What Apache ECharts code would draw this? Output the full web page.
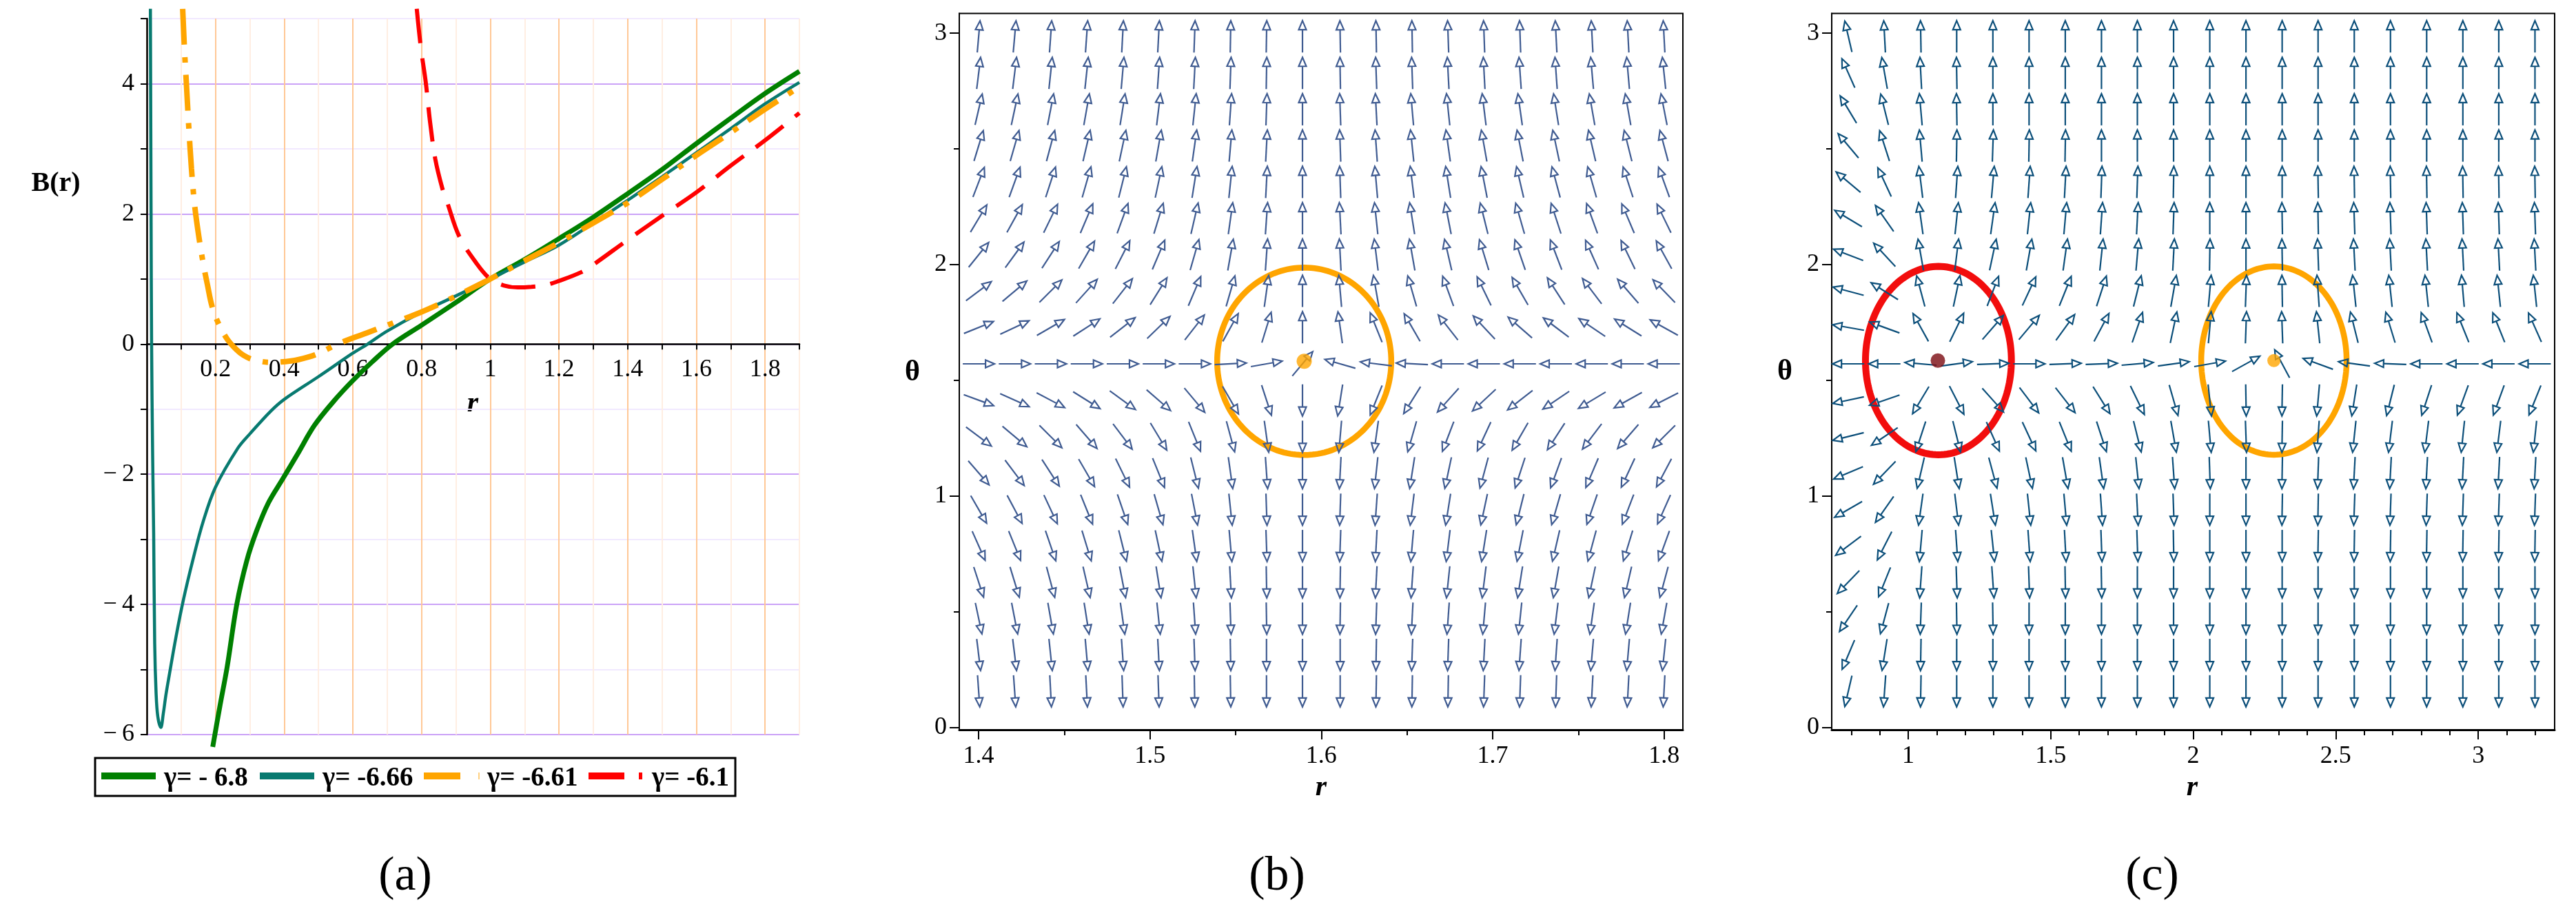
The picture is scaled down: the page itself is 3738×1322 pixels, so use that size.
<!DOCTYPE html>
<html><head><meta charset="utf-8">
<script src="https://cdn.jsdelivr.net/npm/echarts@6/dist/echarts.min.js"></script>
<style>html,body{margin:0;padding:0;background:#fff}#c{width:3738px;height:1322px}</style>
</head><body><div id="c"></div>
<script>
// ---------------- Panel (a): B(r) curves ----------------
const legendLabels = ['γ= - 6.8', 'γ= -6.66', 'γ= -6.61', 'γ= -6.1'];
const curveG680 = [[0.192,-6.19],[0.213,-5.56],[0.234,-4.96],[0.262,-4.0],[0.291,-3.33],[0.319,-2.88],[0.354,-2.44],[0.396,-2.07],[0.439,-1.69],[0.488,-1.25],[0.544,-0.88],[0.6,-0.56],[0.657,-0.27],[0.716,0],[0.8,0.29],[0.9,0.64],[1.0,1.0],[1.1,1.3],[1.2,1.62],[1.3,1.95],[1.4,2.31],[1.5,2.68],[1.6,3.08],[1.7,3.47],[1.8,3.85],[1.9,4.19]];
const curveG666 = [[0.0105,5.15],[0.0125,2.0],[0.014,0],[0.017,-1.7],[0.02,-2.9],[0.023,-4.6],[0.027,-5.35],[0.032,-5.72],[0.041,-5.89],[0.048,-5.68],[0.056,-5.38],[0.065,-5.1],[0.085,-4.5],[0.107,-3.92],[0.135,-3.3],[0.164,-2.73],[0.2,-2.2],[0.265,-1.6],[0.3,-1.38],[0.361,-1.03],[0.4,-0.85],[0.5,-0.5],[0.6,-0.14],[0.643,0],[0.7,0.2],[0.8,0.49],[0.9,0.74],[1.0,1.0],[1.1,1.26],[1.2,1.52],[1.3,1.86],[1.4,2.21],[1.5,2.57],[1.6,2.94],[1.7,3.31],[1.8,3.69],[1.9,4.02]];
const curveG661 = [[0.1045,5.15],[0.11,4.5],[0.115,4.03],[0.122,3.36],[0.13,2.7],[0.14,2.1],[0.153,1.6],[0.165,1.22],[0.177,0.9],[0.19,0.58],[0.21,0.3],[0.235,0.07],[0.26,-0.08],[0.281,-0.17],[0.31,-0.24],[0.36,-0.28],[0.42,-0.26],[0.47,-0.2],[0.506,-0.13],[0.555,0],[0.64,0.17],[0.72,0.33],[0.78,0.45],[0.87,0.66],[1.0,1.0],[1.1,1.28],[1.2,1.56],[1.3,1.86],[1.4,2.17],[1.5,2.53],[1.6,2.9],[1.7,3.25],[1.8,3.61],[1.9,3.95]];
const curveG610 = [[0.786,5.15],[0.798,4.55],[0.812,4.03],[0.825,3.4],[0.84,2.84],[0.86,2.4],[0.875,2.17],[0.91,1.65],[0.96,1.24],[1.0,1.0],[1.04,0.9],[1.08,0.87],[1.12,0.88],[1.164,0.91],[1.2,0.97],[1.263,1.1],[1.3,1.22],[1.4,1.6],[1.5,1.97],[1.6,2.33],[1.7,2.74],[1.8,3.13],[1.9,3.55]];

// ---------------- Panels (b),(c): direction fields ----------------
const thetaRows = [2.985,2.827,2.670,2.513,2.356,2.199,2.042,1.885,1.728,1.571,1.414,1.257,1.100,0.942,0.785,0.628,0.471,0.314,0.157];
const bCols = [1.400,1.421,1.442,1.463,1.484,1.505,1.526,1.547,1.568,1.589,1.611,1.632,1.653,1.674,1.695,1.716,1.737,1.758,1.779,1.800];
const cCols = [0.790,0.917,1.044,1.170,1.297,1.424,1.551,1.678,1.804,1.931,2.058,2.185,2.312,2.438,2.565,2.692,2.819,2.946,3.072,3.199];
// arrow directions in degrees (0 = +r, 90 = +theta), rows top to bottom
const bAngles = [
[85,85,86,86,87,87,88,89,89,90,91,91,91,92,92,92,93,93,93,93],
[83,83,84,84,85,86,87,88,89,90,91,92,92,93,93,94,94,95,95,96],
[77,78,79,80,81,83,84,86,88,90,92,93,95,96,97,98,99,100,100,101],
[73,74,75,77,78,80,82,85,87,90,92,94,96,98,100,101,102,103,104,105],
[69,70,72,74,76,78,81,84,87,90,92,95,97,99,101,103,105,106,108,110],
[59,61,64,67,70,73,77,82,86,90,93,96,99,101,104,106,108,110,113,116],
[51,54,57,60,63,67,74,80,86,90,93,97,100,103,107,109,111,114,116,119],
[37,40,45,48,52,58,67,74,82,90,95,100,106,110,116,120,123,127,131,134],
[22,25,30,33,38,44,52,61,73,90,98,112,120,128,133,139,143,146,148,151],
[0,0,0,0,0,0,0,3,10,50,164,173,177,180,180,180,180,180,180,180],
[-20,-24,-28,-32,-36,-41,-50,-60,-72,-90,-99,-112,-122,-132,-137,-142,-146,-149,-151,-153],
[-37,-40,-45,-49,-53,-59,-68,-75,-82,-90,-95,-98,-106,-111,-115,-120,-123,-127,-131,-135],
[-49,-53,-57,-60,-64,-68,-76,-82,-86,-90,-93,-96,-99,-102,-105,-108,-110,-113,-115,-118],
[-60,-62,-65,-68,-71,-74,-79,-84,-88,-90,-92,-94,-97,-99,-102,-104,-106,-109,-111,-114],
[-66,-68,-71,-73,-76,-78,-82,-85,-88,-90,-92,-93,-95,-97,-99,-101,-103,-105,-107,-110],
[-72,-73,-75,-77,-79,-81,-84,-87,-89,-90,-91,-93,-94,-96,-97,-99,-100,-102,-103,-105],
[-78,-79,-80,-81,-82,-84,-86,-88,-89,-90,-91,-92,-93,-94,-95,-96,-97,-98,-99,-100],
[-83,-83,-84,-85,-86,-87,-88,-89,-90,-90,-90,-91,-92,-92,-93,-94,-94,-95,-95,-96],
[-86,-86,-87,-87,-88,-88,-89,-89,-90,-90,-90,-91,-91,-91,-92,-92,-92,-93,-93,-93]
];
const cAngles = [
[103,93,91,90,90,90,90,90,90,90,90,90,90,90,90,90,90,90,90,90],
[114,100,93,91,90,90,90,90,90,90,90,90,90,90,90,90,90,90,90,90],
[121,104,95,91,90,90,90,90,90,90,90,90,90,90,90,90,90,90,90,90],
[130,108,95,89,88,89,89,90,90,90,90,90,90,90,90,90,90,90,90,90],
[140,115,97,86,85,86,87,88,88,89,90,90,90,91,91,91,91,91,91,91],
[149,125,98,84,82,84,85,86,87,88,90,90,91,91,92,92,92,92,92,92],
[159,133,100,83,78,80,82,84,85,87,89,90,91,92,93,93,93,93,93,93],
[165,148,105,78,69,65,68,72,76,80,85,88,91,94,96,96,96,95,96,96],
[170,160,119,64,49,50,54,62,71,78,85,88,92,96,104,107,110,112,112,114],
[180,180,175,8,2,0,2,2,5,8,10,29,118,160,172,178,180,180,180,180],
[-168,-161,-121,-63,-48,-53,-52,-58,-64,-74,-84,-89,-91,-95,-99,-104,-108,-110,-110,-112],
[-166,-146,-108,-76,-66,-65,-68,-72,-76,-80,-85,-88,-91,-94,-96,-97,-97,-96,-97,-96],
[-157,-134,-103,-81,-75,-78,-80,-82,-84,-86,-88,-90,-91,-92,-93,-93,-93,-93,-93,-93],
[-150,-125,-98,-83,-81,-84,-85,-86,-87,-88,-90,-90,-91,-91,-92,-92,-92,-92,-92,-92],
[-143,-117,-95,-86,-84,-86,-87,-88,-88,-89,-90,-90,-90,-91,-91,-91,-91,-91,-91,-91],
[-134,-112,-94,-88,-86,-88,-89,-89,-90,-90,-90,-90,-90,-90,-90,-90,-90,-90,-90,-90],
[-124,-105,-92,-89,-89,-90,-90,-90,-90,-90,-90,-90,-90,-90,-90,-90,-90,-90,-90,-90],
[-113,-99,-91,-90,-90,-90,-90,-90,-90,-90,-90,-90,-90,-90,-90,-90,-90,-90,-90,-90],
[-103,-94,-91,-90,-90,-90,-90,-90,-90,-90,-90,-90,-90,-90,-90,-90,-90,-90,-90,-90]
];
// critical points and their enclosing contours: [r, theta, r-radius, theta-radius]
const bPoint = [[1.590, 1.582]];
const bContour = [[1.590, 1.582, 0.0508, 0.405]];
const cRedPoint = [[1.104, 1.585]];
const cRedContour = [[1.106, 1.585, 0.256, 0.407]];
const cOrangePoint = [[2.283, 1.585]];
const cOrangeContour = [[2.283, 1.585, 0.255, 0.407]];

// tick values
const bXMajor = [1.4, 1.5, 1.6, 1.7, 1.8];
const bXMinor = [1.45, 1.55, 1.65, 1.75];
const cXMajor = [1, 1.5, 2, 2.5, 3];
const cXMinor = [0.8,0.9,1.1,1.2,1.3,1.4,1.6,1.7,1.8,1.9,2.1,2.2,2.3,2.4,2.6,2.7,2.8,2.9,3.1,3.2];
const thetaMajor = [0, 1, 2, 3];
const thetaMinor = [0.5, 1.5, 2.5];

// ---------------- rendering ----------------
const SERIF = 'Liberation Serif';
const chart = echarts.init(document.getElementById('c'), null, {width: 3738, height: 1322});

function fieldData(cols, rows, ang) {
  const out = [];
  for (let j = 0; j < rows.length; j++)
    for (let i = 0; i < cols.length; i++) out.push([cols[i], rows[j], ang[j][i]]);
  return out;
}
function arrowRender(color) {
  return function (params, api) {
    const p = api.coord([api.value(0), api.value(1)]);
    const a = api.value(2) * Math.PI / 180;
    const dx = Math.cos(a), dy = -Math.sin(a);
    const L = 46, H = 13, W = 5.5;
    const tail = [p[0] - dx * L / 2, p[1] - dy * L / 2];
    const tip = [p[0] + dx * L / 2, p[1] + dy * L / 2];
    const base = [tip[0] - dx * H, tip[1] - dy * H];
    const px = -dy, py = dx;
    return {type: 'group', children: [
      {type: 'line', shape: {x1: tail[0], y1: tail[1], x2: base[0], y2: base[1]}, style: {stroke: color, lineWidth: 2.2}},
      {type: 'polygon', shape: {points: [tip, [base[0] + px * W, base[1] + py * W], [base[0] - px * W, base[1] - py * W]]},
       style: {stroke: color, fill: 'none', lineWidth: 2.2}}
    ]};
  };
}
function ellipseRender(color, width) {
  return function (params, api) {
    const cx = api.value(0), cy = api.value(1), rx = api.value(2), ry = api.value(3);
    const pts = [];
    for (let t = 0; t <= 160; t++) {
      const th = t / 160 * 2 * Math.PI;
      pts.push(api.coord([cx + rx * Math.cos(th), cy + ry * Math.sin(th)]));
    }
    return {type: 'polyline', shape: {points: pts}, style: {stroke: color, lineWidth: width, fill: 'none'}};
  };
}
const fmtAx = v => { const k = Math.round(v * 10); if (k === 0 || k % 2) return ''; return k % 10 === 0 ? String(k / 10) : (k / 10).toFixed(1); };
const fmtAy = v => { const k = Math.round(v); if (k % 2) return ''; return k < 0 ? '\u2212\u2009' + (-k) : String(k); };
const lbl = (extra) => Object.assign({fontFamily: SERIF, fontSize: 36, color: '#000'}, extra);

function boxAxes(grid, min, max, major, minor, fmt, isX) {
  const main = {
    gridIndex: grid, type: 'value', min: min, max: max,
    position: isX ? 'bottom' : 'left',
    axisLine: {show: true, onZero: false, lineStyle: {color: '#000', width: isX ? 3 : 2}},
    axisTick: {show: true, customValues: major, length: 14, lineStyle: {color: '#000', width: 2}},
    axisLabel: lbl({customValues: major, formatter: fmt, margin: isX ? 21 : 18}),
    splitLine: {show: false}
  };
  const sub = {
    gridIndex: grid, type: 'value', min: min, max: max,
    position: isX ? 'bottom' : 'left',
    axisLine: {show: false, onZero: false},
    axisTick: {show: true, customValues: minor, length: 8, lineStyle: {color: '#000', width: 2}},
    axisLabel: {show: false},
    splitLine: {show: false}
  };
  return [main, sub];
}

const bX = boxAxes(1, 1.3887, 1.811, bXMajor, bXMinor, v => v.toFixed(1), true);
const cX = boxAxes(2, 0.7316, 3.268, cXMajor, cXMinor, v => String(v), true);
const bY = boxAxes(1, -0.0104, 3.085, thetaMajor, thetaMinor, v => String(v), false);
const cY = boxAxes(2, -0.0104, 3.085, thetaMajor, thetaMinor, v => String(v), false);

const lineSeries = (data, color, width, type) => ({
  type: 'line', xAxisIndex: 0, yAxisIndex: 0, data: data, showSymbol: false, smooth: 0.35,
  clip: false, lineStyle: {color: color, width: width, type: type, cap: 'butt'}, z: 3
});

// panel (a): grid height 1039 for 11 units; the r axis sits at B = 0, i.e. 5 units above the bottom edge
const aGridHeight = 1039;
const aZeroOffset = -aGridHeight * 6 / 11;

const option = {
  animation: false,
  backgroundColor: '#fff',
  grid: [
    {left: 213, top: 27, width: 947, height: aGridHeight},
    {left: 1392, top: 19.6, width: 1050, height: 1039.4, show: true, borderColor: '#000', borderWidth: 2, backgroundColor: 'rgba(0,0,0,0)'},
    {left: 2658, top: 19.6, width: 1049, height: 1039.4, show: true, borderColor: '#000', borderWidth: 2, backgroundColor: 'rgba(0,0,0,0)'}
  ],
  xAxis: [
    {gridIndex: 0, type: 'value', min: 0, max: 1.9, interval: 0.1, position: 'bottom', offset: aZeroOffset,
     axisLine: {onZero: false, lineStyle: {color: '#000', width: 2.5}},
     axisTick: {length: 8, lineStyle: {color: '#000', width: 2}},
     axisLabel: lbl({formatter: fmtAx, margin: 19}),
     splitLine: {show: true, lineStyle: {color: ['#ffc896', '#ffeee2'], width: 2}}},
    bX[0], bX[1], cX[0], cX[1]
  ],
  yAxis: [
    {gridIndex: 0, type: 'value', min: -6, max: 5, interval: 1,
     axisLine: {onZero: false, lineStyle: {color: '#000', width: 2.5}},
     axisTick: {length: 9, lineStyle: {color: '#000', width: 2}},
     axisLabel: lbl({formatter: fmtAy, margin: 18}),
     splitLine: {show: true, lineStyle: {color: ['#cba2f7', '#f1e9ff'], width: 2}}},
    bY[0], bY[1], cY[0], cY[1]
  ],
  series: [
    lineSeries(curveG680, '#008000', 7, 'solid'),
    lineSeries(curveG666, '#087a70', 4.5, 'solid'),
    lineSeries(curveG661, '#ffa500', 8, [52, 18, 8, 18]),
    lineSeries(curveG610, '#ff0000', 6, [50, 22]),
    {type: 'custom', xAxisIndex: 1, yAxisIndex: 1, data: bContour, renderItem: ellipseRender('#ffa500', 8.5), z: 2},
    {type: 'custom', xAxisIndex: 1, yAxisIndex: 1, data: fieldData(bCols, thetaRows, bAngles), renderItem: arrowRender('#3f5b91'), z: 3},
    {type: 'scatter', xAxisIndex: 1, yAxisIndex: 1, data: bPoint, symbolSize: 22, itemStyle: {color: '#ffa500'}, z: 4},
    {type: 'custom', xAxisIndex: 3, yAxisIndex: 3, data: cRedContour, renderItem: ellipseRender('#f20d0d', 10), z: 2},
    {type: 'custom', xAxisIndex: 3, yAxisIndex: 3, data: cOrangeContour, renderItem: ellipseRender('#ffa500', 8.5), z: 2},
    {type: 'custom', xAxisIndex: 3, yAxisIndex: 3, data: fieldData(cCols, thetaRows, cAngles), renderItem: arrowRender('#0c4f7a'), z: 3},
    {type: 'scatter', xAxisIndex: 3, yAxisIndex: 3, data: cRedPoint, symbolSize: 21, itemStyle: {color: '#7a0a10'}, z: 4},
    {type: 'scatter', xAxisIndex: 3, yAxisIndex: 3, data: cOrangePoint, symbolSize: 19, itemStyle: {color: '#ffa500'}, z: 4}
  ],
  graphic: [
    {type: 'text', x: 81, y: 267, style: {text: 'B(r)', font: 'bold 40px "Liberation Serif"', textAlign: 'center', textVerticalAlign: 'middle', fill: '#000'}},
    {type: 'text', x: 686, y: 586, style: {text: 'r', font: 'italic bold 42px "Liberation Serif"', textAlign: 'center', textVerticalAlign: 'middle', fill: '#000'}},
    {type: 'text', x: 1324, y: 541, style: {text: 'θ', font: 'bold 42px "Liberation Serif"', textAlign: 'center', textVerticalAlign: 'middle', fill: '#000'}},
    {type: 'text', x: 1917, y: 1143, style: {text: 'r', font: 'italic bold 42px "Liberation Serif"', textAlign: 'center', textVerticalAlign: 'middle', fill: '#000'}},
    {type: 'text', x: 2590, y: 540, style: {text: 'θ', font: 'bold 42px "Liberation Serif"', textAlign: 'center', textVerticalAlign: 'middle', fill: '#000'}},
    {type: 'text', x: 3181, y: 1143, style: {text: 'r', font: 'italic bold 42px "Liberation Serif"', textAlign: 'center', textVerticalAlign: 'middle', fill: '#000'}},
    {type: 'text', x: 588, y: 1273, style: {text: '(a)', font: '70px "Liberation Serif"', textAlign: 'center', textVerticalAlign: 'middle', fill: '#000'}},
    {type: 'text', x: 1853, y: 1273, style: {text: '(b)', font: '70px "Liberation Serif"', textAlign: 'center', textVerticalAlign: 'middle', fill: '#000'}},
    {type: 'text', x: 3123, y: 1273, style: {text: '(c)', font: '70px "Liberation Serif"', textAlign: 'center', textVerticalAlign: 'middle', fill: '#000'}},
    // legend box
    {type: 'rect', shape: {x: 138, y: 1100, width: 929, height: 55}, style: {fill: '#fff', stroke: '#000', lineWidth: 3}, z: 10},
    {type: 'line', shape: {x1: 147, y1: 1126, x2: 226, y2: 1126}, style: {stroke: '#008000', lineWidth: 10}, z: 11},
    {type: 'line', shape: {x1: 377, y1: 1126, x2: 456, y2: 1126}, style: {stroke: '#087a70', lineWidth: 10}, z: 11},
    {type: 'line', shape: {x1: 615, y1: 1126, x2: 668, y2: 1126}, style: {stroke: '#ffa500', lineWidth: 10}, z: 11},
    {type: 'line', shape: {x1: 694, y1: 1126, x2: 696, y2: 1126}, style: {stroke: '#ffd080', lineWidth: 10}, z: 11},
    {type: 'line', shape: {x1: 854, y1: 1126, x2: 906, y2: 1126}, style: {stroke: '#ff0000', lineWidth: 10}, z: 11},
    {type: 'line', shape: {x1: 927, y1: 1126, x2: 932, y2: 1126}, style: {stroke: '#ff0000', lineWidth: 10}, z: 11},
    {type: 'text', x: 238, y: 1130, style: {text: legendLabels[0], font: 'bold 39px "Liberation Serif"', textAlign: 'left', textVerticalAlign: 'middle', fill: '#000'}, z: 11},
    {type: 'text', x: 468, y: 1130, style: {text: legendLabels[1], font: 'bold 39px "Liberation Serif"', textAlign: 'left', textVerticalAlign: 'middle', fill: '#000'}, z: 11},
    {type: 'text', x: 707, y: 1130, style: {text: legendLabels[2], font: 'bold 39px "Liberation Serif"', textAlign: 'left', textVerticalAlign: 'middle', fill: '#000'}, z: 11},
    {type: 'text', x: 946, y: 1130, style: {text: legendLabels[3], font: 'bold 39px "Liberation Serif"', textAlign: 'left', textVerticalAlign: 'middle', fill: '#000'}, z: 11}
  ]
};
chart.setOption(option);
</script>
</body></html>
